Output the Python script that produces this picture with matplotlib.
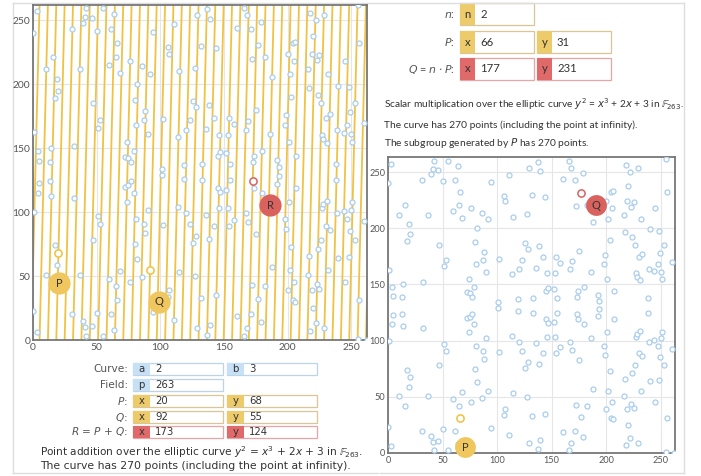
import matplotlib
matplotlib.use("Agg")
import matplotlib.pyplot as plt
import matplotlib.transforms as mtransforms
from matplotlib.patches import Rectangle
import numpy as np

# points of y^2 = x^3 + 2x + 3 over F_263
curve_x = [0, 1, 3, 4, 5, 10, 13, 14, 16, 17, 19,
           20, 31, 32, 37, 39, 41, 42, 46, 47, 50, 51,
           53, 55, 60, 61, 64, 65, 66, 68, 72, 74, 75,
           76, 77, 79, 80, 81, 82, 86, 87, 88, 90, 92,
           94, 101, 102, 106, 107, 111, 114, 115, 119, 120, 123,
           126, 127, 128, 129, 132, 133, 136, 137, 138, 139, 142,
           144, 145, 146, 147, 152, 153, 154, 155, 158, 160, 166,
           167, 168, 169, 171, 172, 173, 174, 175, 177, 179, 180,
           182, 186, 188, 192, 193, 198, 199, 200, 201, 202, 203,
           204, 205, 206, 207, 216, 217, 218, 219, 220, 222, 223,
           224, 225, 226, 227, 228, 229, 230, 231, 232, 233, 238,
           239, 240, 244, 245, 247, 248, 249, 250, 251, 253, 255,
           256, 260, 262]
curve_y_low = [23, 100, 6, 115, 123, 51, 124, 113, 42, 74, 59,
               68, 20, 111, 51, 15, 10, 3, 11, 78, 21, 97,
               91, 3, 48, 20, 8, 42, 31, 54, 120, 108, 121,
               45, 124, 115, 75, 95, 63, 49, 91, 84, 102, 55,
               22, 129, 90, 34, 39, 16, 104, 53, 126, 99, 91,
               76, 50, 81, 9, 33, 125, 98, 4, 79, 12, 89,
               35, 119, 103, 116, 117, 103, 89, 125, 94, 19, 3,
               99, 9, 92, 20, 43, 124, 119, 83, 32, 14, 115,
               42, 102, 57, 122, 128, 95, 87, 39, 108, 55, 73,
               31, 45, 30, 119, 51, 66, 7, 39, 25, 13, 44,
               71, 40, 78, 103, 106, 9, 89, 109, 55, 86, 125,
               99, 64, 101, 45, 95, 65, 85, 102, 108, 78, 1,
               31, 93, 0]
# mirror points (none for x = 262, where y = 0)
curve_y_high = [240, 163, 257, 148, 140, 212, 139, 150, 221, 189, 204,
                195, 243, 152, 212, 248, 253, 260, 252, 185, 242, 166,
                172, 260, 215, 243, 255, 221, 232, 209, 143, 155, 142,
                218, 139, 148, 188, 168, 200, 214, 172, 179, 161, 208,
                241, 134, 173, 229, 224, 247, 159, 210, 137, 164, 172,
                187, 213, 182, 254, 230, 138, 165, 259, 184, 251, 174,
                228, 144, 160, 147, 146, 160, 174, 138, 169, 244, 260,
                164, 254, 171, 243, 220, 139, 144, 180, 231, 249, 148,
                221, 161, 206, 141, 135, 168, 176, 224, 155, 208, 190,
                232, 218, 233, 144, 212, 197, 256, 224, 238, 250, 219,
                192, 223, 185, 160, 157, 254, 174, 154, 208, 177, 138,
                164, 199, 162, 218, 168, 198, 178, 161, 155, 185, 262,
                232, 170]

field_p = 263
# addition: line through P and Q, wrapping mod p
add_P = (20, 68)
add_Q = (92, 55)
add_R = (173, 124)
line_slope = 40
line_intercept = 57
# scalar multiplication
mul_n = 2
mul_P = (66, 31)
mul_Q = (177, 231)

ticks = [0, 50, 100, 150, 200, 250]

RING = "#a9cdee"
YEL = "#f0c75e"
YEL_RING = "#f0c040"
RED = "#d9625f"
LINE = "#f0c244"
GRID = "#e6e6e6"
AXC = "#777777"
TXT = "#555555"

W, H = 701, 476
fig = plt.figure(figsize=(W / 100, H / 100), dpi=100)

# background layer in pixel coordinates
bg = fig.add_axes([0, 0, 1, 1], zorder=0)
bg.set_xlim(0, W)
bg.set_ylim(H, 0)
bg.axis("off")

# panel borders
bg.plot([13, 13], [3, 473], color="#dddddd", lw=1)
bg.plot([13, 684], [3, 3], color="#dddddd", lw=1)
bg.plot([13, 378], [473, 473], color="#dddddd", lw=1)
bg.plot([380, 684], [473, 473], color="#dddddd", lw=1)
bg.plot([684, 684], [3, 473], color="#dddddd", lw=1)


def field_box(x0, yc, w, h, cw, cell, border, letter, value, size, family):
    bg.add_patch(Rectangle((x0, yc - h / 2), w, h, facecolor="white",
                           edgecolor=border, lw=0.9))
    bg.add_patch(Rectangle((x0, yc - h / 2), cw, h, facecolor=cell,
                           edgecolor="none"))
    bg.text(x0 + cw / 2, yc, letter, ha="center", va="center",
            fontsize=size, color="#333333", family=family)
    bg.text(x0 + cw + 5, yc, value, ha="left", va="center",
            fontsize=size, color="#333333", family=family)


BLUE_CELL, BLUE_BORDER = "#c6e0f6", "#bcd3e8"
YEL_CELL, YEL_BORDER = "#eecb6a", "#d9c595"
RED_CELL, RED_BORDER = "#e06a6a", "#e7a5a5"

# left form
lf = "DejaVu Sans"
rows_left = [
    (369, "Curve:", [("a", "2", BLUE_CELL, BLUE_BORDER), ("b", "3", BLUE_CELL, BLUE_BORDER)]),
    (385, "Field:", [("p", str(field_p), BLUE_CELL, BLUE_BORDER)]),
    (401, "$P$:", [("x", str(add_P[0]), YEL_CELL, YEL_BORDER), ("y", str(add_P[1]), YEL_CELL, YEL_BORDER)]),
    (417, "$Q$:", [("x", str(add_Q[0]), YEL_CELL, YEL_BORDER), ("y", str(add_Q[1]), YEL_CELL, YEL_BORDER)]),
    (432, "$R$ = $P$ + $Q$:", [("x", str(add_R[0]), RED_CELL, RED_BORDER), ("y", str(add_R[1]), RED_CELL, RED_BORDER)]),
]
for yc, lab, boxes in rows_left:
    bg.text(128, yc, lab, ha="right", va="center", fontsize=7.6, color=TXT, family=lf)
    for i, (letter, val, cell, border) in enumerate(boxes):
        field_box(133 + i * 94, yc, 90, 12.5, 17, cell, border, letter, val, 7.3, lf)

bg.text(40, 452, r"Point addition over the elliptic curve $y^2$ = $x^3$ + 2$x$ + 3 in $\mathbb{F}_{263}$.",
        ha="left", va="center", fontsize=7.6, color="#333333", family=lf)
bg.text(40, 466, "The curve has 270 points (including the point at infinity).",
        ha="left", va="center", fontsize=7.8, color="#333333", family=lf)

# right form
rf = "Lato"
rows_right = [
    (14, "$n$:", [("n", str(mul_n), YEL_CELL, YEL_BORDER)]),
    (42, "$P$:", [("x", str(mul_P[0]), YEL_CELL, YEL_BORDER), ("y", str(mul_P[1]), YEL_CELL, YEL_BORDER)]),
    (69, r"$Q$ = $n$ $\cdot$ $P$:", [("x", str(mul_Q[0]), RED_CELL, RED_BORDER), ("y", str(mul_Q[1]), RED_CELL, RED_BORDER)]),
]
for yc, lab, boxes in rows_right:
    bg.text(455, yc, lab, ha="right", va="center", fontsize=7.8, color=TXT, family=rf)
    for i, (letter, val, cell, border) in enumerate(boxes):
        field_box(460 + i * 77, yc, 74, 21.5, 15, cell, border, letter, val, 8.2, rf)

for yc, s, fs in [(104, r"Scalar multiplication over the elliptic curve $y^2$ = $x^3$ + 2$x$ + 3 in $\mathbb{F}_{263}$.", 7.25),
                  (125, "The curve has 270 points (including the point at infinity).", 7.4),
                  (143, "The subgroup generated by $P$ has 270 points.", 7.4)]:
    bg.text(384, yc, s, ha="left", va="center", fontsize=fs, color="#333333", family=rf)


def style_axes(ax, lim, tick_size):
    ax.set_xlim(0, lim)
    ax.set_ylim(0, lim)
    ax.set_xticks(ticks)
    ax.set_yticks(ticks)
    ax.grid(True, color=GRID, lw=0.8)
    ax.set_axisbelow(True)
    ax.tick_params(length=0, labelsize=tick_size, labelcolor=TXT, pad=2)
    for lab in ax.get_xticklabels() + ax.get_yticklabels():
        lab.set_family("Lato")
    for s in ax.spines.values():
        s.set_color(AXC)
        s.set_linewidth(1.3)


def curve_points(ax):
    ax.plot(curve_x, curve_y_low, "o", ms=3.6, mfc="white", mec=RING, mew=0.9, zorder=3)
    ax.plot(curve_x[:-1], curve_y_high, "o", ms=3.6, mfc="white", mec=RING, mew=0.9, zorder=3)


def label_point(ax, pt, name, color, dx, dy, ms):
    tr = mtransforms.offset_copy(ax.transData, fig=fig, x=dx, y=-dy, units="dots")
    ax.plot(pt[0], pt[1], "o", ms=ms, color=color, mec="none", transform=tr, zorder=6, clip_on=False)
    ax.text(pt[0], pt[1], name, transform=tr, ha="center", va="center",
            fontsize=8, color="#333333", family="Lato", zorder=7)


# left chart: point addition
axL = fig.add_axes([33 / W, 1 - 340 / H, (366.5 - 33) / W, (340 - 5) / H], zorder=2)
style_axes(axL, 262, 7.4)
for k in range(0, line_slope + 1):
    xs = [(field_p * k - line_intercept) / line_slope,
          (field_p * (k + 1) - line_intercept) / line_slope]
    axL.plot(xs, [0, field_p], color=LINE, lw=1.3, zorder=2)
curve_points(axL)
axL.plot(*add_P, "o", ms=5.2, mfc="white", mec=YEL_RING, mew=1.1, zorder=4)
axL.plot(*add_Q, "o", ms=5.2, mfc="white", mec=YEL_RING, mew=1.1, zorder=4)
axL.plot(*add_R, "o", ms=5.2, mfc="white", mec=RED, mew=1.1, zorder=4)
label_point(axL, add_P, "P", YEL, 1, 30, 16)
label_point(axL, add_Q, "Q", YEL, 9, 32, 16)
label_point(axL, add_R, "R", RED, 17, 24, 16)

# right chart: scalar multiplication
axR = fig.add_axes([388 / W, 1 - 453 / H, (675 - 388) / W, (453 - 157.5) / H], zorder=2)
style_axes(axR, 263, 6.6)
curve_points(axR)
axR.plot(*mul_P, "o", ms=5.2, mfc="white", mec=YEL_RING, mew=1.1, zorder=4)
axR.plot(*mul_Q, "o", ms=5.2, mfc="white", mec=RED, mew=1.1, zorder=4)
label_point(axR, mul_P, "P", YEL, 5, 29, 15)
label_point(axR, mul_Q, "Q", RED, 15, 12, 15)

fig.savefig("out.png", dpi=100)
